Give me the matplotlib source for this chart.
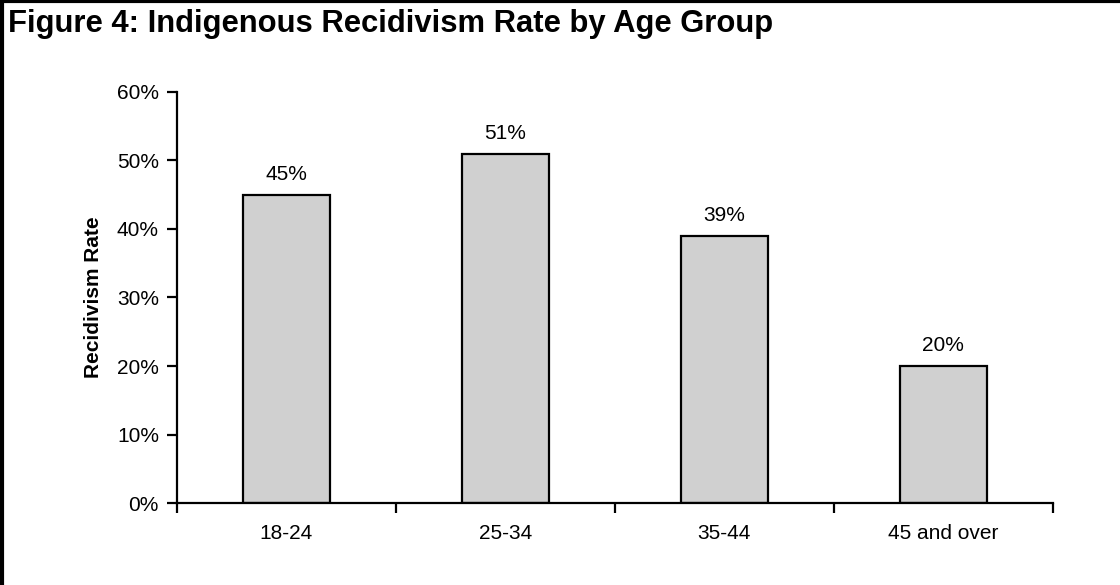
import matplotlib.pyplot as plt
import numpy as np
from matplotlib.lines import Line2D

plt.rcParams['font.family'] = ['Liberation Sans', 'DejaVu Sans']

# recidivism by age group
groups = ['18-24', '25-34', '35-44', '45 and over']
rates = [45, 51, 39, 20]
yticks = [0, 10, 20, 30, 40, 50, 60]

fig = plt.figure(figsize=(11.2, 5.85), dpi=100)
ax = fig.add_axes([0.158, 0.140, 0.782, 0.703])

x = np.arange(len(groups))
ax.bar(x, rates, width=0.4, color='#d0d0d0', edgecolor='black', linewidth=1.6)
for xi, r in zip(x, rates):
    ax.annotate(f'{r}%', (xi, r), xytext=(0, 10.8), textcoords='offset points',
                ha='center', va='baseline', fontsize=15)

ax.set_xlim(-0.5, len(groups) - 0.5)
ax.set_ylim(0, 60)
ax.set_yticks(yticks)
ax.set_yticklabels([f'{t}%' for t in yticks], fontsize=15)
# category ticks sit between the bars
ax.set_xticks(np.arange(len(groups) + 1) - 0.5)
ax.set_xticklabels([])
ax.set_xticks(x, minor=True)
ax.set_xticklabels(groups, minor=True, fontsize=15)
ax.tick_params(axis='x', which='minor', length=0, pad=15)
ax.tick_params(axis='both', which='major', length=7, width=1.6, direction='out')
ax.tick_params(axis='y', pad=6)

for side in ['top', 'right']:
    ax.spines[side].set_visible(False)
for side in ['left', 'bottom']:
    ax.spines[side].set_linewidth(1.6)

ax.set_ylabel('Recidivism Rate', fontsize=15, fontweight='bold', labelpad=10)

fig.text(0.007, 0.945, 'Figure 4: Indigenous Recidivism Rate by Age Group',
         fontsize=22.3, fontweight='bold', ha='left', va='baseline')

# frame on the top and left edges
fig.add_artist(Line2D([0.0015, 0.0015], [0, 1], color='black', linewidth=3,
                      transform=fig.transFigure))
fig.add_artist(Line2D([0, 1], [0.9975, 0.9975], color='black', linewidth=3,
                      transform=fig.transFigure))

fig.savefig('out.png', dpi=100)
